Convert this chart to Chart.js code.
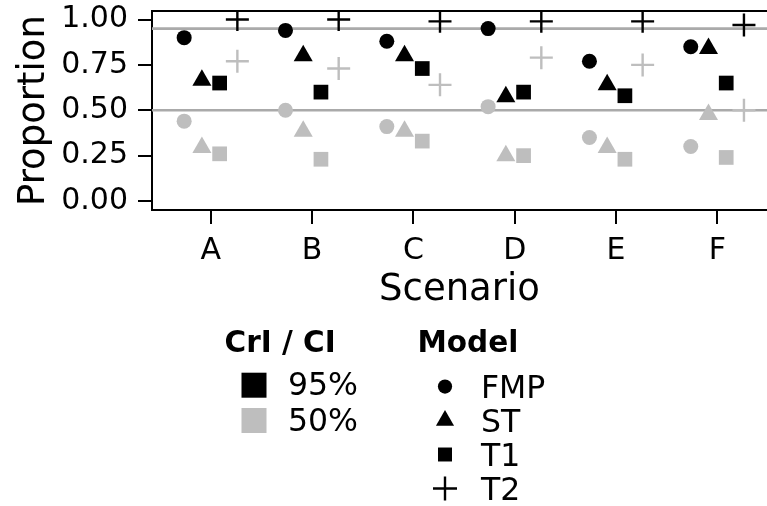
<!DOCTYPE html>
<html>
<head>
<meta charset="utf-8">
<script src="https://cdn.jsdelivr.net/npm/chart.js@4/dist/chart.umd.min.js"></script>
<style>
  html, body { margin: 0; padding: 0; overflow: hidden; background: #fff; }
  canvas { display: block; }
</style>
</head>
<body>
<canvas id="myChart" width="767" height="506"></canvas>
<script>
/* data */
const scenarios = ['A', 'B', 'C', 'D', 'E', 'F'];
const models = ['FMP', 'ST', 'T1', 'T2'];
const levels = ['95%', '50%'];

const fmp95 = [0.90, 0.94, 0.88, 0.95, 0.77, 0.85];
const st95  = [0.665, 0.80, 0.80, 0.575, 0.64, 0.84];
const t195  = [0.65, 0.60, 0.73, 0.60, 0.58, 0.65];
const t295  = [1.00, 1.00, 0.99, 0.99, 0.99, 0.97];

const fmp50 = [0.44, 0.50, 0.41, 0.52, 0.35, 0.30];
const st50  = [0.295, 0.385, 0.385, 0.25, 0.295, 0.477];
const t150  = [0.26, 0.23, 0.33, 0.25, 0.23, 0.24];
const t250  = [0.77, 0.73, 0.64, 0.79, 0.75, 0.50];

const refLines = [0.95, 0.5];
const yTicks = [0, 0.25, 0.5, 0.75, 1];

/* styles */
const FONT = "'DejaVu Sans', 'Liberation Sans', sans-serif";
const levelColor = { '95%': '#000000', '50%': '#bebebe' };
const modelStyle = {
  FMP: { pointStyle: 'circle', radius: 7.5, borderWidth: 0 },
  ST:  { pointStyle: 'triangle', radius: 11, borderWidth: 0 },
  T1:  { pointStyle: 'rect', radius: 10.4, borderWidth: 0 },
  T2:  { pointStyle: 'cross', radius: 11.5, borderWidth: 2.4 }
};
const dodge = { FMP: -0.2625, ST: -0.0875, T1: 0.0875, T2: 0.2625 };

const series = {
  '95%': { FMP: fmp95, ST: st95, T1: t195, T2: t295 },
  '50%': { FMP: fmp50, ST: st50, T1: t150, T2: t250 }
};

let datasets = [];
levels.forEach((lv, li) => {
  models.forEach(m => {
    const st = modelStyle[m];
    datasets.push({
      label: m + ' ' + lv,
      data: series[lv][m].map((v, i) => ({ x: i + 1 + dodge[m], y: v })),
      pointStyle: st.pointStyle,
      pointRadius: st.radius,
      pointHoverRadius: st.radius,
      pointBorderWidth: st.borderWidth,
      pointBackgroundColor: levelColor[lv],
      pointBorderColor: levelColor[lv],
      order: li
    });
  });
});

/* grey horizontal reference lines */
const refLinePlugin = {
  id: 'refLines',
  beforeDatasetsDraw(chart) {
    const { ctx, chartArea, scales } = chart;
    ctx.save();
    ctx.strokeStyle = '#aaaaaa';
    ctx.lineWidth = 2.6;
    refLines.forEach(v => {
      const y = scales.y.getPixelForValue(v);
      ctx.beginPath();
      ctx.moveTo(chartArea.left, y);
      ctx.lineTo(chartArea.right, y);
      ctx.stroke();
    });
    ctx.restore();
  }
};

/* top edge of the panel box */
const topBorderPlugin = {
  id: 'topBorder',
  afterDraw(chart) {
    const { ctx, chartArea } = chart;
    ctx.save();
    ctx.strokeStyle = '#000';
    ctx.lineWidth = 2;
    ctx.beginPath();
    ctx.moveTo(chartArea.left - 1, chartArea.top);
    ctx.lineTo(chartArea.right, chartArea.top);
    ctx.stroke();
    ctx.restore();
  }
};

/* two legends below the plot, ggplot style */
const legendPlugin = {
  id: 'ggLegend',
  afterDraw(chart) {
    const ctx = chart.ctx;
    ctx.save();
    ctx.fillStyle = '#000';
    ctx.textBaseline = 'alphabetic';
    ctx.textAlign = 'left';
    ctx.font = 'bold 29.5px ' + FONT;
    ctx.fillText('CrI / CI', 224.5, 352);
    ctx.fillText('Model', 417.5, 352);

    ctx.font = '31.5px ' + FONT;
    const lvRows = [385.2, 420.5];
    levels.forEach((lv, i) => {
      ctx.fillStyle = levelColor[lv];
      ctx.fillRect(241.5, lvRows[i] - 12.5, 25, 25);
      ctx.fillStyle = '#000';
      ctx.fillText(lv, 288, lvRows[i] + 10);
    });

    const mRows = [386.5, 420.5, 454.5, 488.5];
    models.forEach((m, i) => {
      const st = modelStyle[m];
      ctx.fillStyle = '#000';
      ctx.strokeStyle = '#000';
      ctx.lineWidth = st.borderWidth;
      Chart.helpers.drawPoint(ctx, {
        pointStyle: st.pointStyle,
        radius: st.pointStyle === 'cross' ? 12 : st.radius * 0.95,
        rotation: 0,
        borderWidth: st.borderWidth
      }, 445, mRows[i]);
      ctx.fillStyle = '#000';
      ctx.fillText(m, 481, mRows[i] + 11.5);
    });
    ctx.restore();
  }
};

/* keep the panel edges where the axes are, no label overhang padding */
function noPad(s) {
  s.paddingTop = 0;
  s.paddingBottom = 0;
  s.paddingLeft = 0;
  s.paddingRight = 0;
}

let ctx = document.querySelector('#myChart').getContext('2d');
let myChart = new Chart(ctx, {
  type: 'scatter',
  data: { datasets: datasets },
  plugins: [refLinePlugin, topBorderPlugin, legendPlugin],
  options: {
    responsive: false,
    animation: false,
    layout: { autoPadding: false, padding: { top: 11, right: 0, bottom: 196, left: 0 } },
    plugins: {
      legend: { display: false },
      tooltip: { enabled: false }
    },
    scales: {
      x: {
        type: 'linear',
        min: 0.42,
        max: 6.49,
        afterBuildTicks: s => { s.ticks = scenarios.map((c, i) => ({ value: i + 1 })); },
        afterFit: s => { s.height = 100; noPad(s); },
        grid: { drawOnChartArea: false, color: '#000', lineWidth: 2, tickLength: 14 },
        border: { display: true, color: '#000', width: 2 },
        ticks: {
          padding: 9,
          color: '#000',
          font: { family: FONT, size: 30 },
          callback: v => scenarios[Math.round(v) - 1]
        },
        title: {
          display: true,
          text: 'Scenario',
          color: '#000',
          font: { family: FONT, size: 37, lineHeight: 1 },
          padding: { top: 0, bottom: 1 }
        }
      },
      y: {
        min: -0.0496,
        max: 1.047,
        afterBuildTicks: s => { s.ticks = yTicks.map(v => ({ value: v })); },
        afterFit: s => { s.width = 152; noPad(s); },
        grid: { drawOnChartArea: false, color: '#000', lineWidth: 2, tickLength: 14 },
        border: { display: true, color: '#000', width: 2 },
        ticks: {
          padding: 10,
          color: '#000',
          font: { family: FONT, size: 30 },
          callback: v => v.toFixed(2)
        },
        title: {
          display: true,
          text: 'Proportion',
          color: '#000',
          font: { family: FONT, size: 37, lineHeight: 1 },
          padding: { top: 16, bottom: 0 }
        }
      }
    }
  }
});
</script>
</body>
</html>
